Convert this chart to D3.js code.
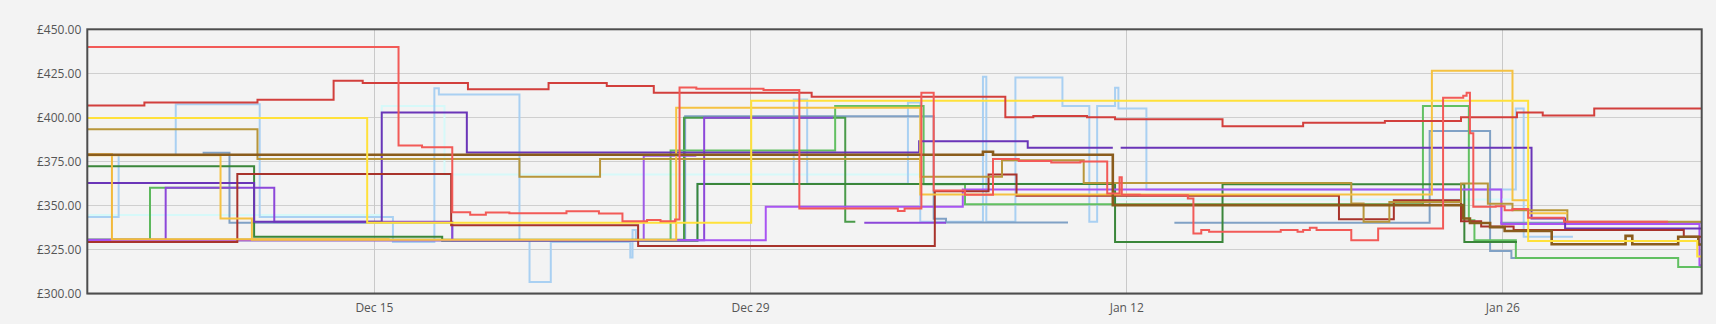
<!DOCTYPE html>
<html>
<head>
<meta charset="utf-8">
<script src="https://cdn.jsdelivr.net/npm/d3@7"></script>
<style>
  html, body { margin: 0; padding: 0; background: #f3f3f3; }
  svg { display: block; font-family: "Open Sans", "Noto Sans", sans-serif; }
</style>
</head>
<body>
<svg id="chart" width="1716" height="324"></svg>
<script>
// Axis ticks
const yTicks = [300, 325, 350, 375, 400, 425, 450];
const xTicks = ["2024-12-15T00", "2024-12-29T00", "2025-01-12T00", "2025-01-26T00"];

// Price histories, one step series per seller: [time, price]; null marks a gap
const lightCyan = [["2024-12-04T08",344.5],["2024-12-15T07",406.4],["2024-12-17T15",367.6],["2025-01-04T10",362.5],["2025-01-11T14",353.4],["2025-01-26T12",353.4]];
const lightBlue = [["2024-12-04T08",343.5],["2024-12-05T12",378.6],["2024-12-07T15",407.4],["2024-12-10T18",343.5],["2024-12-15T17",329.3],["2024-12-17T06",416.5],["2024-12-17T10",413],["2024-12-20T10",330],["2024-12-20T19",306.6],["2024-12-21T14",329.3],["2024-12-24T13",320.4],["2024-12-24T15",336],["2024-12-24T18",330.3],["2024-12-27T01",362.3],["2024-12-30T15",410.2],["2024-12-31T03",362.3],["2025-01-03T21",408.5],["2025-01-04T08",340.7],["2025-01-06T16",423],["2025-01-06T19",340.7],["2025-01-07T21",422.7],["2025-01-09T15",406.4],["2025-01-10T15",340.7],["2025-01-10T22",406.4],["2025-01-11T14",416.8],["2025-01-11T17",405.1],["2025-01-12T18",359.1],["2025-01-26T12",405.1],["2025-01-26T19",332.2],["2025-01-28T15",332.2]];
const steelBlue = [["2024-12-08T15",379.9],["2024-12-09T15",340.1],["2024-12-17T22",330.3],["2024-12-26T14",400.6],["2025-01-04T20",342.5],["2025-01-05T07",340.3],["2025-01-09T20",340.3],["2025-01-09T21",null],["2025-01-13T19",340.1],["2025-01-23T07",392.2],["2025-01-25T13",324.2],["2025-01-26T08",320.2],["2025-01-26T13",320.2]];
const slateBlue = [["2025-01-25T22",340.1],["2025-02-02T10",340.1]];
const midGreen = [["2024-12-04T08",330.5],["2024-12-06T16",360],["2024-12-10T00",360]];
const grassGreen = [["2024-12-04T08",330.5],["2024-12-26T13",399.8],["2025-01-01T13",340.7],["2025-01-01T22",340.7]];
const paleGreen = [["2024-12-04T08",330.3],["2024-12-26T01",381.2],["2025-01-01T04",406.4],["2025-01-04T11",362],["2025-01-06T00",350.7],["2025-01-23T01",406.4],["2025-01-24T18",341.6],["2025-01-24T23",330.3],["2025-01-26T12",320.2],["2025-02-01T13",315.1],["2025-02-02T10",315.1]];
const darkGreen = [["2024-12-04T08",372.2],["2024-12-10T13",332.2],["2024-12-17T13",330],["2024-12-27T01",362.1],["2025-01-11T14",329.3],["2025-01-15T14",362],["2025-01-24T14",329.3],["2025-01-26T13",329.3]];
const lilac = [["2024-12-04T08",330.3],["2024-12-25T01",378.2],["2024-12-27T00",378.2]];
const purple = [["2024-12-04T08",330.5],["2024-12-07T06",360],["2024-12-11T07",340.7],["2024-12-17T22",330.3],["2024-12-27T07",399.8],["2025-01-01T02",399.8],["2025-01-01T03",null],["2025-01-02T06",340.1],["2025-01-05T07",340.1]];
const violet = [["2024-12-04T08",330.3],["2024-12-29T14",349.2],["2025-01-05T22",359.1],["2025-01-25T23",339.4],["2025-02-02T07",339.4],["2025-02-02T08",316],["2025-02-02T10",316]];
const indigo = [["2024-12-04T08",362.8],["2024-12-10T13",340.7],["2024-12-15T07",402.8],["2024-12-18T11",380.1],["2025-01-04T07",386.5],["2025-01-08T08",382.7],["2025-01-11T12",382.7],["2025-01-11T13",null],["2025-01-11T19",382.7],["2025-01-27T02",342.6],["2025-01-28T08",336.9],["2025-02-02T10",336.9]];
const maroon = [["2024-12-04T08",329.3],["2024-12-09T22",367.8],["2024-12-17T21",338.8],["2024-12-24T20",327],["2025-01-04T21",358],["2025-01-06T21",367.6],["2025-01-07T22",355.5],["2025-01-19T22",342.2],["2025-01-21T23",353],["2025-01-24T11",341],["2025-01-25T05",338],["2025-01-26T10",336],["2025-02-01T18",332.2],["2025-02-02T10",332.2]];
const goldenrod = [["2024-12-04T08",393.2],["2024-12-10T16",376.3],["2024-12-20T10",366.3],["2024-12-23T10",376.3],["2025-01-04T08",366.3],["2025-01-07T09",375.7],["2025-01-10T10",362.8],["2025-01-20T09",351.1],["2025-01-20T20",340.7],["2025-01-21T19",352],["2025-01-24T11",362.5],["2025-01-25T11",351],["2025-01-26T09",347.3],["2025-01-28T10",340.7],["2025-02-02T10",340.7]];
const amber = [["2024-12-04T08",379],["2024-12-05T06",330.8],["2024-12-15T14",330.8]];
const orangeGold = [["2024-12-04T08",378.5],["2024-12-09T07",342.6],["2024-12-10T11",330.5],["2024-12-26T06",405.5],["2025-01-04T08",356.2],["2025-01-23T09",426.5],["2025-01-26T09",353],["2025-01-26T23",345.5],["2025-01-28T10",345.5]];
const brown = [["2024-12-04T08",378.8],["2025-01-06T16",380.5],["2025-01-07T01",378.8],["2025-01-11T12",350.2],["2025-01-24T13",342.6],["2025-01-24T19",340],["2025-01-25T13",337.7],["2025-01-26T02",335.5],["2025-01-27T20",328],["2025-01-30T14",332.7],["2025-01-30T20",328],["2025-02-01T13",332.2],["2025-02-02T07",327.8],["2025-02-02T10",327.8]];
const yellow = [["2024-12-04T08",399.6],["2024-12-14T18",340.1],["2024-12-29T01",409.5],["2025-01-26T23",329.8],["2025-02-02T06",321],["2025-02-02T10",321]];
const red = [["2024-12-04T08",406.8],["2024-12-06T11",408.5],["2024-12-10T16",410],["2024-12-13T12",420.8],["2024-12-14T14",419.5],["2024-12-18T12",415.9],["2024-12-21T12",419.5],["2024-12-23T16",417.8],["2024-12-25T10",414],["2024-12-31T07",411.7],["2025-01-07T12",400],["2025-01-08T13",400.8],["2025-01-10T13",400],["2025-01-11T14",399],["2025-01-15T14",395],["2025-01-18T14",397],["2025-01-21T15",398],["2025-01-24T11",400],["2025-01-26T13",402.8],["2025-01-27T12",401],["2025-01-29T10",405],["2025-02-02T10",405]];
const lightRed = [["2024-12-04T08",440],["2024-12-15T22",384],["2024-12-16T19",383],["2024-12-17T22",346.2],["2024-12-18T14",344.7],["2024-12-19T04",346],["2024-12-20T01",345.5],["2024-12-22T04",346.7],["2024-12-23T09",345.4],["2024-12-24T06",341],["2024-12-25T04",341.8],["2024-12-25T16",341],["2024-12-26T05",342],["2024-12-26T09",417],["2024-12-27T00",416.3],["2024-12-29T12",415.5],["2024-12-30T20",348.3],["2025-01-03T12",346.8],["2025-01-03T18",348.3],["2025-01-04T09",414],["2025-01-04T20",358.5],["2025-01-06T00",356],["2025-01-07T01",376.3],["2025-01-08T00",375.2],["2025-01-09T05",374.4],["2025-01-10T07",375],["2025-01-11T07",356.8],["2025-01-11T18",366],["2025-01-11T20",356],["2025-01-12T12",355.8],["2025-01-14T07",354],["2025-01-14T12",334.1],["2025-01-14T19",336],["2025-01-15T02",335],["2025-01-17T18",336],["2025-01-18T09",335],["2025-01-18T14",336],["2025-01-18T20",337.3],["2025-01-19T02",336],["2025-01-20T09",330.3],["2025-01-21T09",336.9],["2025-01-23T19",411.2],["2025-01-24T13",412.3],["2025-01-24T16",414],["2025-01-24T19",391],["2025-01-24T22",349.2],["2025-01-25T18",349.5],["2025-01-26T02",347.3],["2025-01-26T09",348],["2025-01-26T23",343],["2025-01-28T07",340.7],["2025-02-01T04",340.7]];

// Drawing order (first = bottom) with stroke colours
const series = [
  { data: lightCyan,  color: "#d6f9f9" },
  { data: lightBlue,  color: "#a9d0f2" },
  { data: steelBlue,  color: "#80a1c5" },
  { data: slateBlue,  color: "#7b9bbf" },
  { data: midGreen,   color: "#5cb85c" },
  { data: grassGreen, color: "#4a9b4a" },
  { data: paleGreen,  color: "#62c062" },
  { data: darkGreen,  color: "#3a863a" },
  { data: lilac,      color: "#9e5ae6" },
  { data: purple,     color: "#8c47d9" },
  { data: violet,     color: "#a854f2" },
  { data: indigo,     color: "#6a35b8" },
  { data: maroon,     color: "#a8332b" },
  { data: goldenrod,  color: "#b8963a" },
  { data: amber,      color: "#f2b93b" },
  { data: orangeGold, color: "#f5c242" },
  { data: brown,      color: "#8a5c1c", width: 2.6 },
  { data: yellow,     color: "#ffe13a" },
  { data: red,        color: "#d23f3c" },
  { data: lightRed,   color: "#f25a57" }
];

const parse = d3.timeParse("%Y-%m-%dT%H");
series.forEach(s => { s.points = s.data.map(([t, v]) => [parse(t), v]); });

const W = 1716, H = 324;
const margin = { top: 29.3, right: 14.3, bottom: 30.5, left: 87.3 };

const allTimes = series.flatMap(s => s.points.map(p => p[0]));
const x = d3.scaleTime()
  .domain(d3.extent(allTimes))
  .range([margin.left, W - margin.right]);
const y = d3.scaleLinear()
  .domain([d3.min(yTicks), d3.max(yTicks)])
  .range([H - margin.bottom, margin.top]);

const svg = d3.select("#chart");

svg.append("rect")
  .attr("width", W).attr("height", H).attr("fill", "#f3f3f3");

svg.append("clipPath").attr("id", "plot-clip")
  .append("rect")
  .attr("x", margin.left).attr("y", margin.top)
  .attr("width", W - margin.left - margin.right)
  .attr("height", H - margin.top - margin.bottom);

// Grid
const grid = svg.append("g");
grid.selectAll("line.h").data(yTicks).join("line")
  .attr("class", "h")
  .attr("x1", margin.left).attr("x2", W - margin.right)
  .attr("y1", d => Math.round(y(d)) + 0.5).attr("y2", d => Math.round(y(d)) + 0.5)
  .attr("stroke", "#cfcfcf").attr("stroke-width", 1);
grid.selectAll("line.v").data(xTicks.map(parse)).join("line")
  .attr("class", "v")
  .attr("x1", d => Math.round(x(d)) + 0.5).attr("x2", d => Math.round(x(d)) + 0.5)
  .attr("y1", margin.top).attr("y2", H - margin.bottom)
  .attr("stroke", "#c9c9c9").attr("stroke-width", 1);

// Step lines
const line = d3.line()
  .defined(d => d[1] != null)
  .x(d => x(d[0]))
  .y(d => y(d[1]))
  .curve(d3.curveStepAfter);

svg.append("g").attr("clip-path", "url(#plot-clip)")
  .selectAll("path").data(series).join("path")
  .attr("d", s => line(s.points))
  .attr("fill", "none")
  .attr("stroke", s => s.color)
  .attr("stroke-width", s => s.width || 2)
  .attr("stroke-linejoin", "miter");

// Axes
const yAxis = svg.append("g")
  .attr("transform", `translate(${margin.left},0)`)
  .call(d3.axisLeft(y).tickValues(yTicks).tickSize(0).tickPadding(6)
    .tickFormat(d => "£" + d3.format(".2f")(d)));
const xAxis = svg.append("g")
  .attr("transform", `translate(0,${H - margin.bottom})`)
  .call(d3.axisBottom(x).tickValues(xTicks.map(parse)).tickSize(0).tickPadding(10)
    .tickFormat(d3.timeFormat("%b %d")));
[yAxis, xAxis].forEach(g => {
  g.select(".domain").remove();
  g.selectAll("text").attr("fill", "#555").attr("font-size", 12)
    .attr("font-family", "\"Open Sans\", \"Noto Sans\", sans-serif");
});

// Plot frame
svg.append("rect")
  .attr("x", margin.left).attr("y", margin.top)
  .attr("width", W - margin.left - margin.right)
  .attr("height", H - margin.top - margin.bottom)
  .attr("fill", "none").attr("stroke", "#4d4d4d").attr("stroke-width", 2);
</script>
</body>
</html>
